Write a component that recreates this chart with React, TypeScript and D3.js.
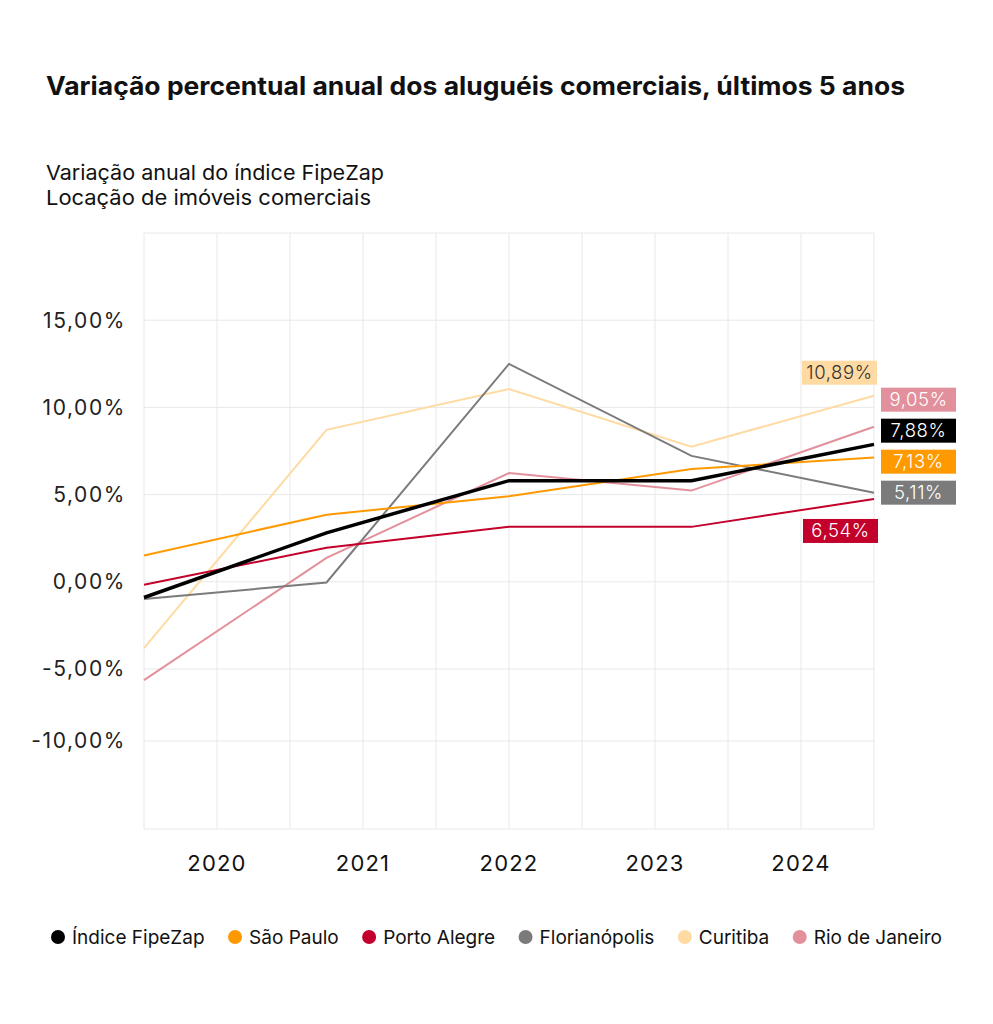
import React, { useEffect, useRef } from "react";
import * as d3 from "d3";

const years = ["2020", "2021", "2022", "2023", "2024"];
const seriesNames = ["Índice FipeZap", "São Paulo", "Porto Alegre", "Florianópolis", "Curitiba", "Rio de Janeiro"];
const seriesColors = ["#000000", "#FF9900", "#C3002B", "#7B7B7B", "#FFDBA3", "#E3909D"];
const labelTextColors = ["#ffffff", "#ffffff", "#ffffff", "#ffffff", "#333333", "#ffffff"];
const fipezap = [-0.9, 2.81, 5.8, 5.8, 7.88];
const saoPaulo = [1.51, 3.85, 4.9, 6.47, 7.13];
const portoAlegre = [-0.17, 1.95, 3.15, 3.15, 4.75];
const florianopolis = [-0.99, -0.04, 12.49, 7.22, 5.11];
const curitiba = [-3.8, 8.71, 11.05, 7.75, 10.67];
const rioDeJaneiro = [-5.77, 1.37, 6.24, 5.23, 8.89];
const endLabels = ["7,88%", "7,13%", "6,54%", "5,11%", "10,89%", "9,05%"];
const labelSide = ["right", "right", "below", "right", "above", "right"];
const yTicks = [15, 10, 5, 0, -5, -10];
const yGrid = [20, 15, 10, 5, 0, -5, -10, -15];

const allSeries = [fipezap, saoPaulo, portoAlegre, florianopolis, curitiba, rioDeJaneiro];

export default function App() {
  const ref = useRef<SVGSVGElement | null>(null);

  useEffect(() => {
    const svg = d3.select(ref.current);
    svg.selectAll("*").remove();
    const font = "Inter, 'Noto Sans', sans-serif";
    const left = 144, right = 874, top = 233, bottom = 829;

    svg.append("rect").attr("width", 993).attr("height", 1024).attr("fill", "#fff");

    // titles
    svg.append("text").attr("x", 46).attr("y", 95).attr("font-family", font).attr("font-size", 25)
      .attr("font-weight", 700).attr("fill", "#111").attr("textLength", 859).attr("lengthAdjust", "spacingAndGlyphs")
      .text("Variação percentual anual dos aluguéis comerciais, últimos 5 anos");
    svg.append("text").attr("x", 46).attr("y", 180).attr("font-family", font).attr("font-size", 20.5)
      .attr("fill", "#111").attr("textLength", 338).attr("lengthAdjust", "spacingAndGlyphs")
      .text("Variação anual do índice FipeZap");
    svg.append("text").attr("x", 46).attr("y", 205).attr("font-family", font).attr("font-size", 20.5)
      .attr("fill", "#111").attr("textLength", 325).attr("lengthAdjust", "spacingAndGlyphs")
      .text("Locação de imóveis comerciais");

    const y = d3.scaleLinear().domain([-15, -10, -5, 20]).range([bottom, 741, 669, top]);
    const xPt = d3.scalePoint<string>().domain(years).range([left, right]).padding(0);
    const xBand = d3.scaleBand<string>().domain(years).range([left, right]);
    const xGrid = d3.scaleLinear().domain([0, 10]).range([left, right]);

    const g = svg.append("g");
    // grid
    g.selectAll("line.v").data(d3.range(0, 11)).join("line")
      .attr("x1", (d) => xGrid(d)).attr("x2", (d) => xGrid(d)).attr("y1", top).attr("y2", bottom)
      .attr("stroke", "#e8e8e8").attr("stroke-width", 1);
    g.selectAll("line.h").data(yGrid).join("line")
      .attr("x1", left).attr("x2", right).attr("y1", (d) => y(d)).attr("y2", (d) => y(d))
      .attr("stroke", "#e8e8e8").attr("stroke-width", 1);

    // y labels
    const fmt = (v: number) => d3.format(".2f")(v).replace(".", ",").replace("−", "-") + "%";
    g.selectAll("text.yt").data(yTicks).join("text")
      .attr("x", 126).attr("y", (d) => y(d)).attr("dy", "0.35em").attr("text-anchor", "end")
      .attr("font-family", font).attr("font-size", 21).attr("letter-spacing", 1.6).attr("fill", "#222").text((d) => fmt(d));

    // x labels
    g.selectAll("text.xt").data(years).join("text")
      .attr("x", (d) => (xBand(d) as number) + xBand.bandwidth() / 2).attr("y", 871)
      .attr("text-anchor", "middle").attr("font-family", font).attr("font-size", 22).attr("letter-spacing", 1.2)
      .attr("fill", "#111").text((d) => d);

    // lines (draw order: lighter first, black on top)
    const order = [4, 5, 3, 1, 2, 0];
    const line = d3.line<number>().x((_, i) => xPt(years[i]) as number).y((d) => y(d));
    order.forEach((si) => {
      g.append("path").attr("d", line(allSeries[si]) as string).attr("fill", "none")
        .attr("stroke", seriesColors[si]).attr("stroke-width", si === 0 ? 3.5 : 2)
        .attr("stroke-linejoin", "miter");
    });

    // end labels
    const boxW = 75, boxH = 24;
    const rightIdx = [0, 1, 3, 5].sort((a, b) => y(allSeries[b][4]) - y(allSeries[a][4]));
    const labelY: number[] = [];
    const base = y(allSeries[rightIdx[0]][4]);
    rightIdx.forEach((si, k) => { labelY[si] = base - k * 31; });
    allSeries.forEach((s, si) => {
      const endY = y(s[4]);
      let bx: number, by: number;
      if (labelSide[si] === "right") {
        bx = right + 7; by = labelY[si] - boxH / 2;
      } else if (labelSide[si] === "above") {
        bx = right + 3 - boxW; by = endY - 11 - boxH;
      } else {
        bx = right + 4 - boxW; by = endY + 20;
      }
      g.append("rect").attr("x", bx).attr("y", by).attr("width", boxW).attr("height", boxH)
        .attr("fill", seriesColors[si]);
      g.append("text").attr("x", bx + boxW / 2).attr("y", by + boxH / 2).attr("dy", "0.35em")
        .attr("text-anchor", "middle").attr("font-family", font).attr("font-size", 18.5).attr("font-weight", 300)
        .attr("letter-spacing", 0.6).attr("fill", labelTextColors[si]).text(endLabels[si]);
    });

    // legend
    const lg = svg.append("g");
    const items = seriesNames.map((name, i) => {
      const it = lg.append("g");
      it.append("circle").attr("cx", 0).attr("cy", 0).attr("r", 7).attr("fill", seriesColors[i]);
      const t = it.append("text").attr("x", 14).attr("y", 0).attr("dy", "0.35em").attr("font-family", font)
        .attr("font-size", 19).attr("fill", "#111").text(name);
      const w = 14 + (t.node() as SVGTextElement).getComputedTextLength();
      return { it, w };
    });
    const startX = 58, endX = 942;
    const total = d3.sum(items, (d) => d.w);
    const gap = (endX - startX - total) / (items.length - 1);
    let cx = startX;
    items.forEach((d) => { d.it.attr("transform", `translate(${cx},937)`); cx += d.w + gap; });
  }, []);

  return (
    <svg ref={ref} width={993} height={1024} style={{ position: "absolute", left: 0, top: 0 }} />
  );
}
